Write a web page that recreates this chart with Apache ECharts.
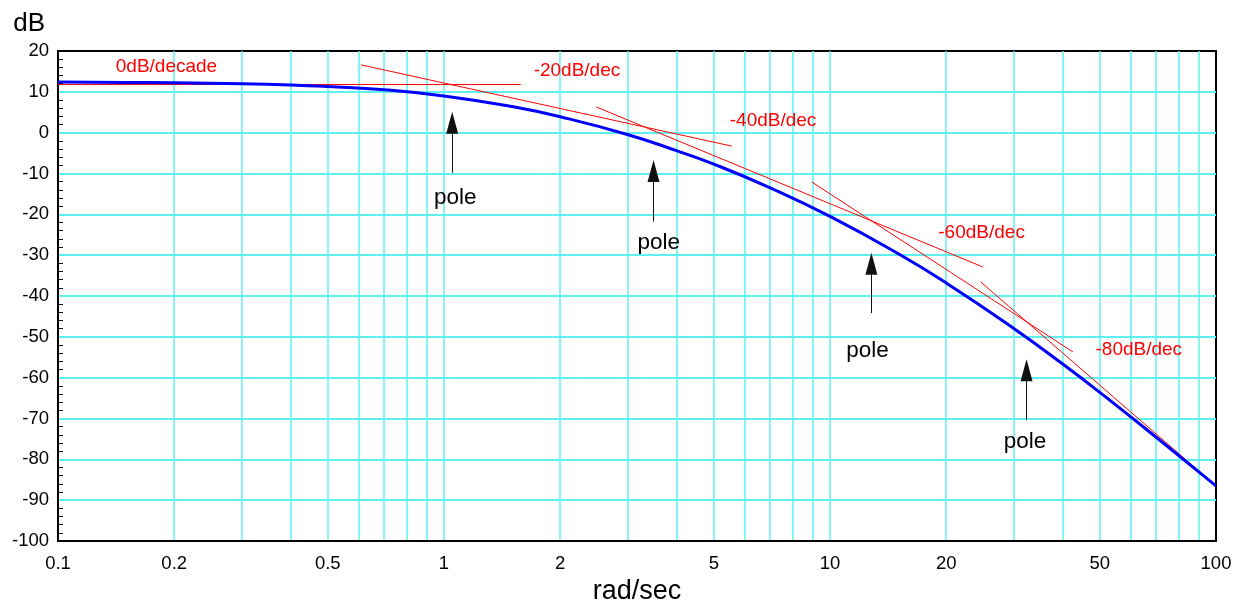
<!DOCTYPE html>
<html>
<head>
<meta charset="utf-8">
<title>Bode magnitude</title>
<script src="https://cdn.jsdelivr.net/npm/echarts@6/dist/echarts.min.js"></script>
<style>
  html, body { margin: 0; padding: 0; background: #fff; }
  #chart { width: 1237px; height: 603px; }
</style>
</head>
<body>
<div id="chart"></div>
<script>
// magnitude curve
const freq = [0.1, 0.15, 0.2, 0.3, 0.4, 0.5, 0.7, 1, 1.5, 2, 3, 4, 5, 7, 10, 15, 20, 30, 40, 50, 70, 100]
const magDb = [12.4, 12.3, 12.2, 12.0, 11.7, 11.3, 10.5, 9.0, 6.4, 3.9, -0.5, -4.4, -7.7, -13.5, -20.5, -29.6, -36.8, -48.0, -56.6, -63.6, -74.6, -86.5]

// asymptote segments [freq, dB]
const slope0 = [[0.1, 11.8], [1.58, 11.8]]
const slope20 = [[0.61, 16.6], [5.57, -3.3]]
const slope40 = [[2.48, 6.3], [24.9, -32.9]]
const slope60 = [[8.98, -12.1], [42.6, -53.7]]
const slope80 = [[24.6, -36.6], [100, -86.5]]

const slopeText = ['0dB/decade', '-20dB/dec', '-40dB/dec', '-60dB/dec', '-80dB/dec']
const slopeTextX = [0.191, 2.21, 7.12, 24.7, 63.1]
const slopeTextY = [16.1, 15.2, 2.9, -24.6, -53.1]

// pole arrows
const poleX = [1.05, 3.49, 12.8, 32.3]
const arrowTop = [5.1, -6.7, -29.4, -55.5]
const arrowBottom = [-9.8, -21.8, -44.2, -70.4]
const poleTextX = [1.07, 3.6, 12.5, 32.0]
const poleTextY = [-16.0, -27.0, -53.5, -75.8]

// axis ticks
const xGrid = [0.1, 0.2, 0.3, 0.4, 0.5, 0.6, 0.7, 0.8, 0.9, 1, 2, 3, 4, 5, 6, 7, 8, 9, 10, 20, 30, 40, 50, 60, 70, 80, 90, 100]
const xLabels = [0.1, 0.2, 0.5, 1, 2, 5, 10, 20, 50, 100]

const FONT = 'Liberation Sans'
const CYAN = '#5ef0f0'

let myChart = echarts.init(document.getElementById('chart'))

function redLine (pts) {
  return {
    type: 'line',
    data: pts,
    symbol: 'none',
    silent: true,
    lineStyle: { color: '#ff0000', width: 1 },
    z: 3
  }
}

function textSeries (items, color, size) {
  return {
    type: 'scatter',
    symbolSize: 0,
    silent: true,
    itemStyle: { opacity: 1 },
    data: items,
    label: {
      show: true,
      position: 'inside',
      formatter: '{b}',
      color: color,
      fontSize: size,
      fontFamily: FONT
    },
    z: 5
  }
}

let arrows = poleX.map(function (x, i) {
  // end point sits half a head below the tip, head is centred on it
  return [
    { coord: [x, arrowBottom[i]] },
    { coord: [x, arrowTop[i] - 2.7], symbol: 'triangle', symbolSize: [12, 22] }
  ]
})

let option = {
  animation: false,
  textStyle: { fontFamily: FONT },
  grid: {
    left: 58,
    right: 21,
    top: 51,
    bottom: 62,
    outerBoundsMode: 'none',
    containLabel: false,
    show: true,
    borderColor: '#000',
    borderWidth: 2,
    backgroundColor: 'transparent'
  },
  xAxis: {
    type: 'log',
    logBase: 10,
    min: 0.1,
    max: 100,
    name: 'rad/sec',
    nameLocation: 'middle',
    nameGap: 36,
    nameTextStyle: { fontSize: 27, color: '#000', fontFamily: FONT },
    axisLine: { onZero: false, lineStyle: { color: '#000', width: 2 } },
    axisTick: { show: false, customValues: xGrid },
    axisLabel: {
      customValues: xLabels,
      margin: 13,
      fontSize: 18.5,
      color: '#000',
      fontFamily: FONT,
      formatter: function (v) { return String(v) }
    },
    splitLine: { show: true, showMinLine: false, showMaxLine: false, lineStyle: { color: CYAN, width: 1.5 } },
    minorTick: { show: false },
    minorSplitLine: { show: false }
  },
  yAxis: {
    type: 'value',
    min: -100,
    max: 20,
    interval: 10,
    name: 'dB',
    nameLocation: 'end',
    nameGap: 14,
    nameTextStyle: { fontSize: 26, color: '#000', fontFamily: FONT, align: 'right', padding: [0, 13, 0, 0] },
    axisLine: { lineStyle: { color: '#000', width: 2 } },
    axisTick: { show: false, inside: true },
    minorTick: { show: true, splitNumber: 5, length: 5, lineStyle: { color: '#111', width: 1 } },
    axisLabel: { margin: 9, fontSize: 18.5, color: '#000', fontFamily: FONT },
    splitLine: { show: true, showMinLine: false, showMaxLine: false, lineStyle: { color: CYAN, width: 2 } }
  },
  series: [
    {
      type: 'line',
      name: 'magnitude',
      data: freq.map(function (f, i) { return [f, magDb[i]] }),
      smooth: true,
      symbol: 'none',
      silent: true,
      lineStyle: { color: '#0000ff', width: 3 },
      z: 4,
      markLine: {
        silent: true,
        symbol: ['none', 'triangle'],
        label: { show: false },
        lineStyle: { color: '#111', width: 1, type: 'solid' },
        emphasis: { disabled: true },
        data: arrows
      }
    },
    redLine(slope0),
    redLine(slope20),
    redLine(slope40),
    redLine(slope60),
    redLine(slope80),
    textSeries(slopeText.map(function (t, i) {
      return { value: [slopeTextX[i], slopeTextY[i]], name: t }
    }), '#ff0000', 19),
    textSeries(poleTextX.map(function (x, i) {
      return { value: [x, poleTextY[i]], name: 'pole' }
    }), '#000', 22.5)
  ]
}

myChart.setOption(option)
</script>
</body>
</html>
